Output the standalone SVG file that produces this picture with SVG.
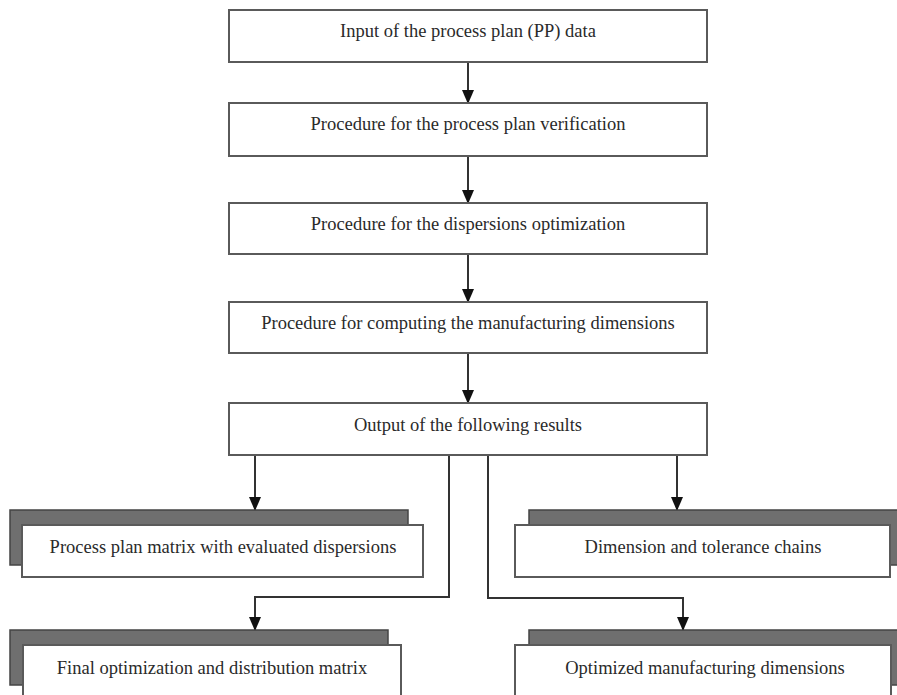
<svg xmlns="http://www.w3.org/2000/svg" width="897" height="695" viewBox="0 0 897 695">
<defs>
<style>
.box{fill:#fff;stroke:#5a5a5a;stroke-width:2}
.back{fill:#6f6f6f;stroke:#444;stroke-width:1.5}
.t{font-family:"Liberation Serif","Times New Roman",serif;font-size:18.5px;fill:#2a2a2a;text-anchor:middle}
.c{fill:none;stroke:#333;stroke-width:2}
</style>
<marker id="ah" markerUnits="userSpaceOnUse" markerWidth="12" markerHeight="14" refX="6" refY="13" orient="auto-start-reverse" viewBox="0 0 12 14">
<path d="M0,0 L12,0 L6,14 Z" fill="#111" transform="rotate(0)"/>
</marker>
<marker id="ad" markerUnits="userSpaceOnUse" markerWidth="14" markerHeight="12" refX="13" refY="6" orient="auto" viewBox="0 0 14 12">
<path d="M0,0 L14,6 L0,12 Z" fill="#111"/>
</marker>
</defs>
<rect width="897" height="695" fill="#fff"/>
<g id="connectors">
<path class="c" d="M468 62 V103" marker-end="url(#ad)"/>
<path class="c" d="M468 156 V203" marker-end="url(#ad)"/>
<path class="c" d="M468 254 V302" marker-end="url(#ad)"/>
<path class="c" d="M468 353 V403" marker-end="url(#ad)"/>
<path class="c" d="M255 455 V510" marker-end="url(#ad)"/>
<path class="c" d="M677 455 V510" marker-end="url(#ad)"/>
<path class="c" d="M449 455 V597 H255 V630" marker-end="url(#ad)"/>
<path class="c" d="M488 455 V598 H683 V630" marker-end="url(#ad)"/>
</g>
<g id="n1"><rect class="box" x="229" y="10" width="478" height="52"/><text class="t" x="468" y="37">Input of the process plan (PP) data</text></g>
<g id="n2"><rect class="box" x="229" y="103" width="478" height="53"/><text class="t" x="468" y="130">Procedure for the process plan verification</text></g>
<g id="n3"><rect class="box" x="229" y="203" width="478" height="51"/><text class="t" x="468" y="230">Procedure for the dispersions optimization</text></g>
<g id="n4"><rect class="box" x="229" y="302" width="478" height="51"/><text class="t" x="468" y="329">Procedure for computing the manufacturing dimensions</text></g>
<g id="n5"><rect class="box" x="229" y="403" width="478" height="52"/><text class="t" x="468" y="431">Output of the following results</text></g>
<g id="r1"><rect class="back" x="10" y="510" width="398" height="55"/><rect class="box" x="22" y="525" width="401" height="52"/><text class="t" x="223" y="553">Process plan matrix with evaluated dispersions</text></g>
<g id="r2"><rect class="back" x="529" y="510" width="380" height="55"/><rect class="box" x="515" y="525" width="375" height="52"/><text class="t" x="703" y="553">Dimension and tolerance chains</text></g>
<g id="r3"><rect class="back" x="10" y="630" width="378" height="55"/><rect class="box" x="23" y="645" width="378" height="60"/><text class="t" x="212" y="674">Final optimization and distribution matrix</text></g>
<g id="r4"><rect class="back" x="529" y="630" width="380" height="55"/><rect class="box" x="515" y="645" width="376" height="60"/><text class="t" x="705" y="674">Optimized manufacturing dimensions</text></g>
</svg>
